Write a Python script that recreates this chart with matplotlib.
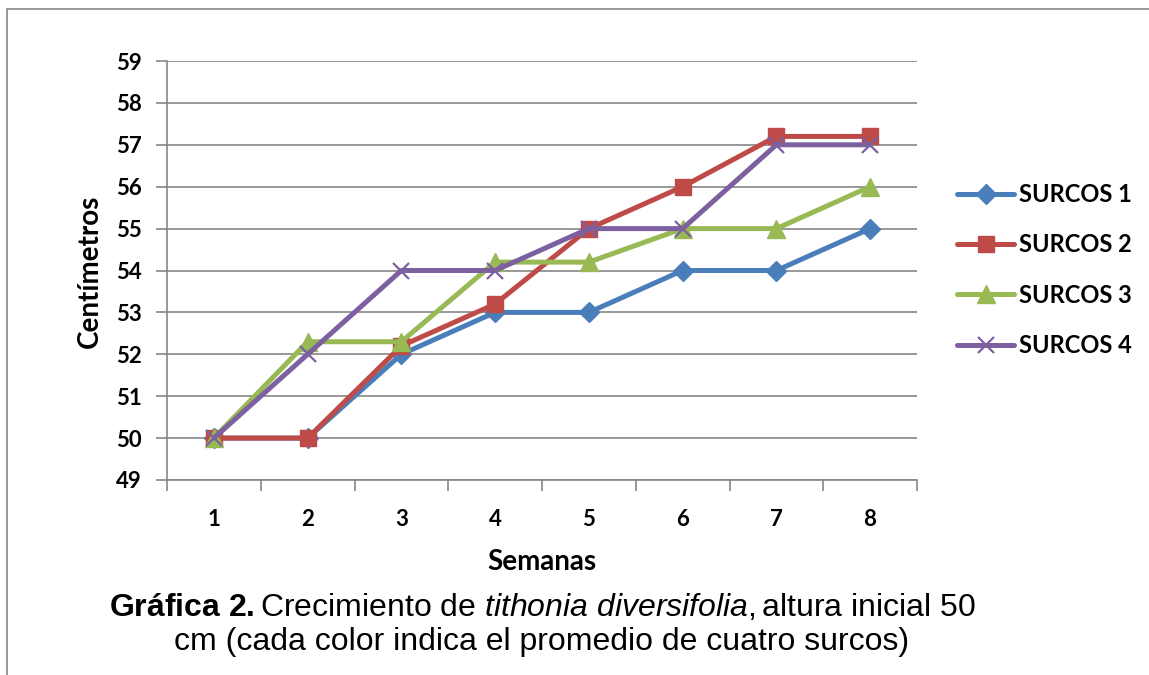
import matplotlib
matplotlib.use("Agg")
import matplotlib.pyplot as plt
from matplotlib.patches import Rectangle
import numpy as np

weeks = ["1", "2", "3", "4", "5", "6", "7", "8"]
s1 = [50, 50, 52, 53, 53, 54, 54, 55]
s2 = [50, 50, 52.2, 53.2, 55, 56, 57.2, 57.2]
s3 = [50, 52.3, 52.3, 54.2, 54.2, 55, 55, 56]
s4 = [50, 52, 54, 54, 55, 55, 57, 57]
names = ["SURCOS 1", "SURCOS 2", "SURCOS 3", "SURCOS 4"]
yticks = list(range(49, 60))

plt.rcParams["mathtext.fontset"] = "custom"
plt.rcParams["mathtext.rm"] = "Liberation Sans"
plt.rcParams["mathtext.bf"] = "Liberation Sans:bold"
plt.rcParams["mathtext.it"] = "Liberation Sans:italic"

W, H = 1149, 675
fig = plt.figure(figsize=(W / 100, H / 100), dpi=100)
fig.patches.append(Rectangle((7 / W, -0.1), 1.2, 1 - 9 / H + 0.1, transform=fig.transFigure,
                             fill=False, edgecolor="#868686", linewidth=1.2))

ax = fig.add_axes([167 / W, 1 - 480 / H, 750 / W, 419 / H])
x = np.arange(len(weeks))
grey = "#868686"
styles = [
    dict(color="#4A7EBB", marker="D", markersize=10.5),
    dict(color="#BE4B48", marker="s", markersize=12),
    dict(color="#98B954", marker="^", markersize=13),
    dict(color="#7D60A0", marker="x", markersize=12, markeredgewidth=1.6),
]
for vals, name, st in zip([s1, s2, s3, s4], names, styles):
    ax.plot(x, vals, linewidth=3.6, label=name, solid_capstyle="round", **st)

ax.set_xlim(-0.5, len(weeks) - 0.5)
ax.set_ylim(49, 59)
ax.set_yticks(yticks)
ax.set_yticklabels([str(v) for v in yticks])
ax.set_xticks(x)
ax.set_xticklabels(weeks)
ax.set_xticks(np.arange(-0.5, len(weeks)), minor=True)
ax.tick_params(axis="x", which="major", length=0, pad=21)
ax.tick_params(axis="x", which="minor", length=8, color=grey, width=1.2, direction="out")
ax.tick_params(axis="y", length=8, color=grey, width=1.2, pad=10)
ax.yaxis.grid(True, color=grey, linewidth=1.2)
ax.set_axisbelow(True)
for s in ["top", "right"]:
    ax.spines[s].set_visible(False)
for s in ["left", "bottom"]:
    ax.spines[s].set_color(grey)
    ax.spines[s].set_linewidth(1.2)

for lab in ax.get_xticklabels() + ax.get_yticklabels():
    lab.set_fontfamily("Lato")
    lab.set_fontweight("bold")
    lab.set_fontsize(16)

fig.text(90 / W, 1 - 271 / H, "Centímetros", rotation=90, ha="center", va="center",
         fontfamily="Lato", fontweight="bold", fontsize=20)
fig.text(542 / W, 1 - 562 / H, "Semanas", ha="center", va="center",
         fontfamily="Lato", fontweight="bold", fontsize=20)

leg = ax.legend(loc="center left", bbox_to_anchor=(948 / W, 1 - 270 / H),
                bbox_transform=fig.transFigure, frameon=False,
                prop=dict(family="Lato", weight="bold", size=17),
                handlelength=2.4, labelspacing=1.16, handletextpad=0.2, borderaxespad=0)

fig.text(542 / W, 1 - 607 / H,
         "$\\bf{Gráfica\\ 2.}$Crecimiento de $\\it{tithonia\\ diversifolia,}$altura inicial 50",
         ha="center", va="center", fontsize=23, fontfamily="Liberation Sans")
fig.text(542 / W, 1 - 642 / H, "cm (cada color indica el promedio de cuatro surcos)",
         ha="center", va="center", fontsize=23, fontfamily="Liberation Sans")

fig.savefig("out.png", dpi=100)
